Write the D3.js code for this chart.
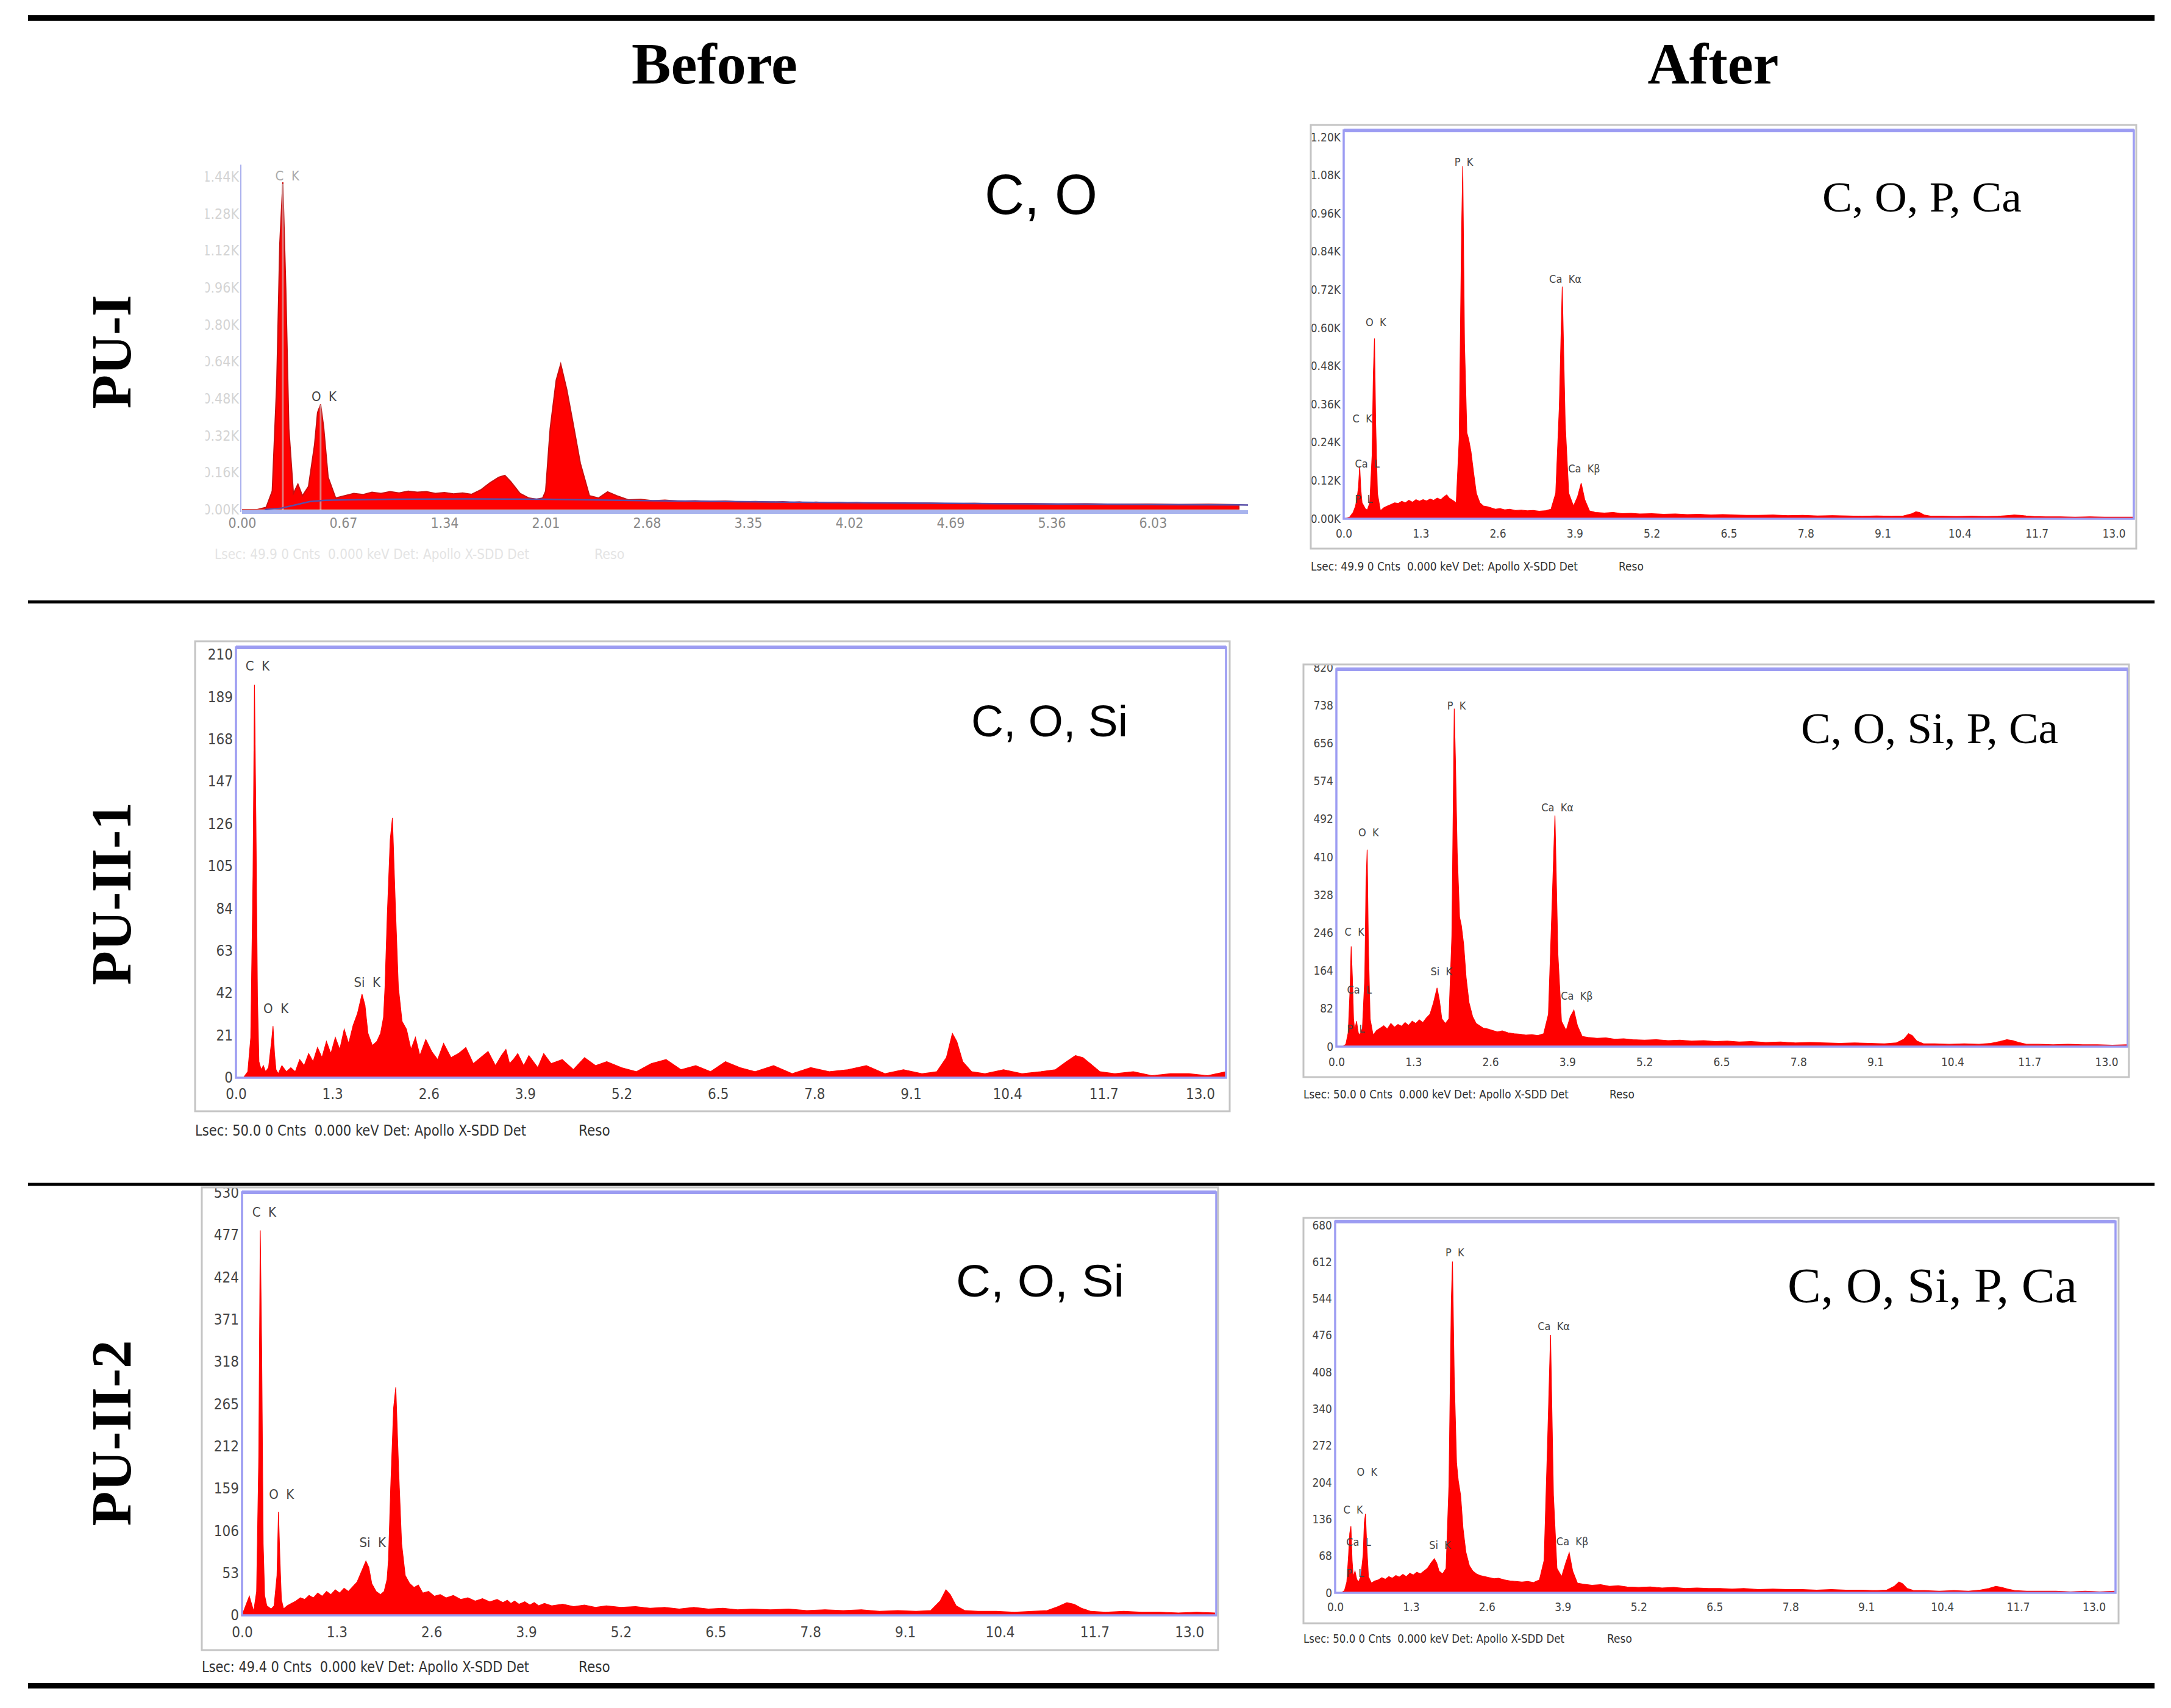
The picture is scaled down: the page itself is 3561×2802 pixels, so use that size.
<!DOCTYPE html>
<html>
<head>
<meta charset="utf-8">
<script src="https://cdn.jsdelivr.net/npm/d3@7"></script>
<style>
  body { margin: 0; background: #fff; }
  svg { display: block; }
</style>
</head>
<body>
<div id="chart"></div>
<script>
// energy grid in keV, shared by all six spectra (10 values per row)
var energy = [
  0.00, 0.10, 0.16, 0.20, 0.23, 0.25, 0.27, 0.29, 0.31, 0.34,
  0.37, 0.40, 0.44, 0.48, 0.50, 0.52, 0.54, 0.57, 0.62, 0.68,
  0.74, 0.80, 0.86, 0.92, 0.98, 1.04, 1.10, 1.16, 1.22, 1.28,
  1.34, 1.40, 1.46, 1.52, 1.58, 1.64, 1.70, 1.74, 1.78, 1.84,
  1.90, 1.95, 1.99, 2.01, 2.04, 2.08, 2.11, 2.15, 2.19, 2.24,
  2.30, 2.36, 2.42, 2.48, 2.56, 2.64, 2.72, 2.80, 2.90, 3.00,
  3.10, 3.20, 3.30, 3.40, 3.50, 3.58, 3.64, 3.69, 3.74, 3.80,
  3.88, 3.95, 4.01, 4.07, 4.15, 4.25, 4.40, 4.55, 4.70, 4.85,
  5.00, 5.20, 5.40, 5.60, 5.80, 6.00, 6.20, 6.40, 6.60, 6.80,
  7.00, 7.25, 7.50, 7.75, 8.00, 8.25, 8.50, 8.75, 9.00, 9.25,
  9.45, 9.58, 9.66, 9.72, 9.80, 9.92, 10.10, 10.35, 10.60, 10.85,
  11.05, 11.20, 11.32, 11.42, 11.52, 11.65, 11.85, 12.10, 12.35, 12.60,
  12.85, 13.10, 13.35
];

// PU-I before (K counts)
var countsPUIBefore = [
  0, 0, 0.01, 0.08, 0.55, 1.15, 1.416, 0.95, 0.35, 0.07,
  0.11, 0.06, 0.10, 0.28, 0.42, 0.455, 0.36, 0.14, 0.05, 0.06,
  0.07, 0.065, 0.075, 0.07, 0.078, 0.072, 0.08, 0.075, 0.078, 0.07,
  0.074, 0.068, 0.072, 0.066, 0.085, 0.115, 0.14, 0.148, 0.12, 0.07,
  0.05, 0.045, 0.05, 0.08, 0.35, 0.56, 0.63, 0.52, 0.38, 0.20,
  0.06, 0.05, 0.077, 0.06, 0.042, 0.044, 0.038, 0.041, 0.036, 0.038,
  0.035, 0.037, 0.033, 0.035, 0.032, 0.034, 0.031, 0.033, 0.030, 0.032,
  0.030, 0.031, 0.029, 0.030, 0.028, 0.029, 0.027, 0.028, 0.026, 0.027,
  0.025, 0.026, 0.024, 0.025, 0.023, 0.024, 0.022, 0.023, 0.021, 0.020,
  0.020, 0.019, 0.020, 0.018, 0.019, 0.018, 0.017, 0.018, 0.017, 0.016,
  0.016, 0.017, 0.018, 0.017, 0.016, 0.015, 0.015, 0.014, 0.014, 0.013,
  0.013, 0.014, 0.015, 0.014, 0.013, 0.012, 0.012, 0.011, 0.011, 0.010,
  0.010, 0.010, 0.009
];
// PU-I after (K counts)
var countsPUIAfter = [
  0, 0.005, 0.02, 0.04, 0.07, 0.10, 0.165, 0.09, 0.05, 0.04,
  0.03, 0.028, 0.05, 0.20, 0.45, 0.567, 0.30, 0.08, 0.025, 0.035,
  0.04, 0.045, 0.05, 0.048, 0.055, 0.05, 0.058, 0.052, 0.06, 0.055,
  0.06, 0.056, 0.062, 0.058, 0.065, 0.06, 0.07, 0.075, 0.065, 0.058,
  0.05, 0.25, 0.90, 1.109, 0.55, 0.27, 0.25, 0.21, 0.15, 0.08,
  0.05, 0.04, 0.038, 0.035, 0.03, 0.032, 0.028, 0.03, 0.026, 0.027,
  0.025, 0.026, 0.024, 0.025, 0.03, 0.08, 0.35, 0.73, 0.30, 0.08,
  0.04, 0.07, 0.112, 0.06, 0.025, 0.02, 0.018, 0.02, 0.016, 0.017,
  0.015, 0.016, 0.014, 0.015, 0.013, 0.014, 0.012, 0.013, 0.012, 0.011,
  0.011, 0.012, 0.010, 0.011, 0.009, 0.010, 0.009, 0.008, 0.009, 0.008,
  0.009, 0.015, 0.022, 0.02, 0.012, 0.008, 0.008, 0.007, 0.008, 0.007,
  0.008, 0.010, 0.012, 0.011, 0.009, 0.007, 0.006, 0.006, 0.005, 0.006,
  0.005, 0.005, 0.005
];
// PU-II-1 before (counts)
var countsPUII1Before = [
  0, 0, 3, 20, 100, 195, 125, 40, 8, 4,
  6, 3, 5, 18, 25.6, 12, 4, 2, 6, 3,
  5, 3, 9, 6, 12, 8, 15, 10, 18, 12,
  20, 14, 24, 17, 26, 32, 41.5, 36, 22, 16,
  18, 22, 30, 45, 80, 118, 129, 85, 45, 28,
  24, 14, 20, 11, 19, 13, 9, 17, 10, 12,
  15, 7, 10, 13, 6, 11, 14, 7, 9, 12,
  6, 11, 8, 5, 12, 7, 9, 4, 10, 6,
  8, 5, 3, 7, 9, 4, 6, 3, 8, 5,
  3, 6, 2, 5, 3, 4, 6, 2, 4, 2,
  3, 10, 22, 18, 8, 3, 2, 4, 2, 3,
  4, 8, 11, 10, 7, 3, 2, 3, 1, 2,
  2, 1, 3
];
// PU-II-1 after (counts)
var countsPUII1After = [
  0, 0, 5, 30, 120, 217, 150, 60, 35, 55,
  30, 25, 40, 150, 350, 426, 220, 60, 25, 35,
  40, 45, 38, 50, 42, 48, 44, 52, 46, 55,
  50, 58, 52, 62, 70, 95, 127, 100, 60, 50,
  60, 240, 731, 620, 420, 280, 262, 220, 150, 95,
  65, 50, 45, 40, 38, 35, 32, 34, 30, 28,
  27, 25, 26, 24, 28, 70, 300, 500, 200, 55,
  35, 65, 79, 45, 22, 20, 18, 19, 16, 17,
  15, 14, 15, 13, 14, 12, 13, 11, 12, 10,
  11, 9, 10, 8, 9, 8, 7, 8, 7, 6,
  8, 16, 28, 24, 12, 6, 6, 5, 6, 5,
  7, 11, 15, 13, 9, 5, 5, 4, 5, 4,
  4, 3, 4
];
// PU-II-2 before (counts)
var countsPUII2Before = [
  0, 24, 5, 30, 200, 483, 330, 90, 25, 12,
  10, 8, 12, 50, 130, 70, 20, 8, 12, 15,
  18, 22, 20, 25, 22, 28, 24, 30, 26, 32,
  28, 34, 30, 36, 42, 55, 68, 60, 40, 30,
  26, 30, 45, 70, 160, 260, 286, 180, 90, 50,
  40, 35, 38, 28, 30, 24, 26, 22, 25, 20,
  22, 18, 21, 17, 20, 16, 19, 15, 18, 14,
  17, 13, 16, 12, 15, 12, 14, 11, 13, 10,
  12, 10, 11, 9, 10, 8, 10, 8, 9, 7,
  8, 7, 8, 6, 7, 6, 7, 5, 6, 5,
  6, 18, 32, 26, 12, 6, 5, 5, 4, 5,
  6, 11, 16, 14, 9, 5, 4, 5, 4, 4,
  3, 4, 3
];
// PU-II-2 after (counts)
var countsPUII2After = [
  0, 0, 4, 20, 70, 110, 123, 60, 30, 40,
  25, 20, 30, 70, 130, 146, 90, 30, 18, 22,
  24, 28, 25, 30, 27, 32, 29, 34, 30, 36,
  33, 38, 35, 40, 45, 55, 63, 55, 40, 35,
  45, 200, 540, 613, 400, 240, 207, 180, 120, 75,
  50, 40, 35, 32, 30, 28, 26, 27, 24, 22,
  21, 20, 21, 19, 24, 60, 280, 477, 180, 45,
  30, 55, 74, 40, 18, 16, 14, 15, 12, 13,
  11, 10, 11, 9, 10, 8, 9, 8, 8, 7,
  8, 6, 7, 6, 6, 5, 6, 5, 5, 4,
  5, 12, 20, 17, 8, 4, 4, 3, 4, 3,
  5, 8, 12, 10, 7, 4, 3, 3, 3, 2,
  3, 2, 3
];

// background fit line of the PU-I before spectrum (K counts)
var fitEnergy = [0.15, 0.25, 0.35, 0.45, 0.55, 0.70, 1.00, 1.50, 2.00, 2.50, 3.00, 4.00, 5.00, 6.00, 6.66];
var fitCounts = [0.0, 0.005, 0.02, 0.035, 0.04, 0.042, 0.045, 0.046, 0.045, 0.040, 0.036, 0.030, 0.026, 0.022, 0.020];

// tick values
var xTicksPUIBefore = [0, 0.67, 1.34, 2.01, 2.68, 3.35, 4.02, 4.69, 5.36, 6.03];
var xTicksKeV = [0, 1.3, 2.6, 3.9, 5.2, 6.5, 7.8, 9.1, 10.4, 11.7, 13.0];
var yTicksPUIBefore = [0, 0.16, 0.32, 0.48, 0.64, 0.80, 0.96, 1.12, 1.28, 1.44];
var yTicksPUIAfter = [0, 0.12, 0.24, 0.36, 0.48, 0.60, 0.72, 0.84, 0.96, 1.08, 1.20];
var yTicksPUII1Before = [0, 21, 42, 63, 84, 105, 126, 147, 168, 189, 210];
var yTicksPUII1After = [0, 82, 164, 246, 328, 410, 492, 574, 656, 738, 820];
var yTicksPUII2Before = [0, 53, 106, 159, 212, 265, 318, 371, 424, 477, 530];
var yTicksPUII2After = [0, 68, 136, 204, 272, 340, 408, 476, 544, 612, 680];

// peak labels: name, energy (keV), height (counts) of the label
var labelsPUIBefore = {names: ["C K", "O K"], e: [0.22, 0.46], v: [1.44, 0.484]};
var labelsPUIAfter = {names: ["P K", "Ca Kα", "O K", "C K", "Ca L", "Ca Kβ", "P L"],
  e: [1.87, 3.47, 0.37, 0.15, 0.19, 3.79, 0.19], v: [1.12, 0.752, 0.615, 0.313, 0.17, 0.155, 0.06]};
var labelsPUII1Before = {names: ["C K", "O K", "Si K"], e: [0.13, 0.37, 1.59], v: [204, 34, 47]};
var labelsPUII1After = {names: ["P K", "Ca Kα", "O K", "C K", "Si K", "Ca L", "Ca Kβ", "P L"],
  e: [1.87, 3.46, 0.37, 0.14, 1.59, 0.18, 3.79, 0.18], v: [736, 516, 461, 246, 161, 121, 108, 37]};
var labelsPUII2Before = {names: ["C K", "O K", "Si K"], e: [0.14, 0.37, 1.61], v: [505, 151, 90]};
var labelsPUII2After = {names: ["P K", "Ca Kα", "O K", "C K", "Si K", "Ca L", "Ca Kβ", "P L"],
  e: [1.89, 3.47, 0.37, 0.14, 1.61, 0.19, 3.79, 0.19], v: [628, 492, 222, 152, 87, 92, 94, 35]};

var columnTitles = ["Before", "After"];
var rowTitles = ["PU-I", "PU-II-1", "PU-II-2"];
var elementNotes = ["C, O", "C, O, P, Ca", "C, O, Si", "C, O, Si, P, Ca", "C, O, Si", "C, O, Si, P, Ca"];

var W = 3561, H = 2802;
var condensed = "'Liberation Sans Narrow', 'DejaVu Sans Condensed', 'Liberation Sans', sans-serif";
var serif = "'Liberation Serif', 'DejaVu Serif', serif";
var sans = "'Liberation Sans', Arial, sans-serif";

var svg = d3.select("#chart").append("svg")
    .attr("width", W)
    .attr("height", H);

svg.append("rect").attr("width", W).attr("height", H).attr("fill", "#fff");

// table rules
[[29.5, 9], [987.5, 5], [1943, 5], [2765.5, 9]].forEach(function(r) {
  svg.append("line")
    .attr("x1", 46).attr("x2", 3534)
    .attr("y1", r[0]).attr("y2", r[0])
    .attr("stroke", "#000")
    .attr("stroke-width", r[1]);
});

// column headers
var headerX = [1172, 2810], headerLen = [272, 215];
columnTitles.forEach(function(t, i) {
  svg.append("text")
    .attr("x", headerX[i]).attr("y", 137)
    .attr("text-anchor", "middle")
    .attr("font-family", serif)
    .attr("font-weight", "bold")
    .attr("font-size", 96)
    .attr("textLength", headerLen[i])
    .attr("lengthAdjust", "spacingAndGlyphs")
    .text(t);
});

// row headers
var rowY = [577, 1466, 2351], rowLen = [187, 300, 305];
rowTitles.forEach(function(t, i) {
  svg.append("text")
    .attr("transform", "translate(182," + rowY[i] + ") rotate(-90)")
    .attr("text-anchor", "middle")
    .attr("dominant-baseline", "central")
    .attr("font-family", serif)
    .attr("font-weight", "bold")
    .attr("font-size", 94)
    .attr("textLength", rowLen[i])
    .attr("lengthAdjust", "spacingAndGlyphs")
    .text(t);
});

var fmtK = function(d) { return d3.format(".2f")(d) + "K"; };

var panels = [
  {counts: countsPUIBefore, xMax: 6.66, yMax: 1.44, xTicks: xTicksPUIBefore, yTicks: yTicksPUIBefore,
   xFmt: d3.format(".2f"), yFmt: fmtK, labels: labelsPUIBefore, note: elementNotes[0],
   left: 397, right: 2047, zero: 836, top: 290, frameTop: 270, outer: null,
   tickY: 858, tickSize: 23, yTickColor: "#d4d4d4", xTickColor: "#8a8a8a",
   footer: "Lsec: 49.9 0 Cnts  0.000 keV Det: Apollo X-SDD Det", footX: 352, footY: 910, footLen: 516, resoX: 975, footColor: "#e4e4e4",
   noteX: 1615, noteY: 351, noteSize: 92, noteFont: sans, noteLen: 185,
   labelSize: 22, labelColors: ["#aaaaaa", "#444"], faded: true},
  {counts: countsPUIAfter, xMax: 13.34, yMax: 1.2, xTicks: xTicksKeV, yTicks: yTicksPUIAfter,
   xFmt: d3.format(".1f"), yFmt: fmtK, labels: labelsPUIAfter, note: elementNotes[1],
   left: 2204, right: 3500, zero: 851, top: 225, frameTop: 214, outer: [2150, 205, 3504, 900],
   tickY: 875, tickSize: 19, yTickColor: "#444", xTickColor: "#444",
   footer: "Lsec: 49.9 0 Cnts  0.000 keV Det: Apollo X-SDD Det", footX: 2150, footY: 930, footLen: 438, resoX: 2655, footColor: "#333",
   noteX: 2989, noteY: 347, noteSize: 70, noteFont: serif, noteLen: 327,
   labelSize: 18, labelColors: ["#444"]},
  {counts: countsPUII1Before, xMax: 13.35, yMax: 210, xTicks: xTicksKeV, yTicks: yTicksPUII1Before,
   xFmt: d3.format(".1f"), yFmt: d3.format("d"), labels: labelsPUII1Before, note: elementNotes[2],
   left: 387, right: 2011, zero: 1768, top: 1074, frameTop: 1062, outer: [320, 1052, 2017, 1823],
   tickY: 1795, tickSize: 24, yTickColor: "#444", xTickColor: "#444",
   footer: "Lsec: 50.0 0 Cnts  0.000 keV Det: Apollo X-SDD Det", footX: 320, footY: 1856, footLen: 543, resoX: 949, footColor: "#333",
   noteX: 1593, noteY: 1208, noteSize: 72, noteFont: sans, noteLen: 257,
   labelSize: 22, labelColors: ["#444"]},
  {counts: countsPUII1After, xMax: 13.36, yMax: 820, xTicks: xTicksKeV, yTicks: yTicksPUII1After,
   xFmt: d3.format(".1f"), yFmt: d3.format("d"), labels: labelsPUII1After, note: elementNotes[3],
   left: 2192, right: 3490, zero: 1717, top: 1095, frameTop: 1098, outer: [2138, 1090, 3492, 1767],
   tickY: 1742, tickSize: 19, yTickColor: "#444", xTickColor: "#444",
   footer: "Lsec: 50.0 0 Cnts  0.000 keV Det: Apollo X-SDD Det", footX: 2138, footY: 1796, footLen: 435, resoX: 2640, footColor: "#333",
   noteX: 2954, noteY: 1219, noteSize: 72, noteFont: serif, noteLen: 422,
   labelSize: 18, labelColors: ["#444"]},
  {counts: countsPUII2Before, xMax: 13.37, yMax: 530, xTicks: xTicksKeV, yTicks: yTicksPUII2Before,
   xFmt: d3.format(".1f"), yFmt: d3.format("d"), labels: labelsPUII2Before, note: elementNotes[4],
   left: 397, right: 1995, zero: 2650, top: 1957, frameTop: 1956, outer: [331, 1948, 1998, 2707],
   tickY: 2678, tickSize: 24, yTickColor: "#444", xTickColor: "#444",
   footer: "Lsec: 49.4 0 Cnts  0.000 keV Det: Apollo X-SDD Det", footX: 331, footY: 2736, footLen: 537, resoX: 949, footColor: "#333",
   noteX: 1568, noteY: 2127, noteSize: 74, noteFont: sans, noteLen: 276,
   labelSize: 22, labelColors: ["#444"]},
  {counts: countsPUII2After, xMax: 13.37, yMax: 680, xTicks: xTicksKeV, yTicks: yTicksPUII2After,
   xFmt: d3.format(".1f"), yFmt: d3.format("d"), labels: labelsPUII2After, note: elementNotes[5],
   left: 2190, right: 3470, zero: 2613, top: 2010, frameTop: 2004, outer: [2138, 1998, 3475, 2663],
   tickY: 2636, tickSize: 19, yTickColor: "#444", xTickColor: "#444",
   footer: "Lsec: 50.0 0 Cnts  0.000 keV Det: Apollo X-SDD Det", footX: 2138, footY: 2689, footLen: 428, resoX: 2636, footColor: "#333",
   noteX: 2932, noteY: 2136, noteSize: 80, noteFont: serif, noteLen: 475,
   labelSize: 18, labelColors: ["#444"]}
];

var defs = svg.append("defs");

panels.forEach(function(p, i) {
  var g = svg.append("g");
  var clipOuter = "outer" + i, clipPlot = "plot" + i;

  var ob = p.outer || [p.left - 60, p.frameTop - 30, p.right + 20, p.footY + 20];
  defs.append("clipPath").attr("id", clipOuter)
    .append("rect")
      .attr("x", ob[0]).attr("y", ob[1])
      .attr("width", ob[2] - ob[0]).attr("height", ob[3] - ob[1]);
  defs.append("clipPath").attr("id", clipPlot)
    .append("rect")
      .attr("x", p.left).attr("y", p.frameTop)
      .attr("width", p.right - p.left).attr("height", p.zero - p.frameTop);

  var x = d3.scaleLinear().domain([0, p.xMax]).range([p.left, p.right]);
  var y = d3.scaleLinear().domain([0, p.yMax]).range([p.zero, p.top]);

  var inner = g.append("g").attr("clip-path", "url(#" + clipOuter + ")");

  // outer window frame
  if (p.outer) {
    g.append("rect")
      .attr("x", p.outer[0]).attr("y", p.outer[1])
      .attr("width", p.outer[2] - p.outer[0]).attr("height", p.outer[3] - p.outer[1])
      .attr("fill", "none")
      .attr("stroke", "#c4c4c4")
      .attr("stroke-width", 3);
  }

  // spectrum
  var data = d3.zip(energy, p.counts).filter(function(d) { return d[0] <= p.xMax + 0.01; });
  var area = d3.area()
    .x(function(d) { return x(d[0]); })
    .y0(y(0))
    .y1(function(d) { return y(d[1]); });
  inner.append("path")
    .datum(data)
    .attr("clip-path", "url(#" + clipPlot + ")")
    .attr("d", area)
    .attr("fill", "#ff0000")
    .attr("stroke", p.faded ? "#c81010" : "#ff0000")
    .attr("stroke-width", p.faded ? 2 : 1.2);

  if (p.faded) {
    // marker lines and background fit
    inner.selectAll(".marker")
      .data([0.27, 0.52])
      .enter().append("line")
        .attr("x1", function(d) { return x(d); })
        .attr("x2", function(d) { return x(d); })
        .attr("y1", function(d, k) { return y(p.labels.v[k]) + 12; })
        .attr("y2", function(d) { return y(0); })
        .attr("stroke", "#cfcfcf")
        .attr("stroke-opacity", 0.6)
        .attr("stroke-width", 3);
    inner.append("path")
      .datum(d3.zip(fitEnergy, fitCounts))
      .attr("d", d3.line().x(function(d) { return x(d[0]); }).y(function(d) { return y(d[1]); }))
      .attr("fill", "none")
      .attr("stroke", "#5a4fa8")
      .attr("stroke-width", 2.5);
    // axes lines of the faded window
    inner.append("line")
      .attr("x1", p.left).attr("x2", p.right)
      .attr("y1", p.zero + 4).attr("y2", p.zero + 4)
      .attr("stroke", "#a8b4ee").attr("stroke-width", 6);
    inner.append("line")
      .attr("x1", p.left - 2).attr("x2", p.left - 2)
      .attr("y1", p.frameTop).attr("y2", p.zero + 4)
      .attr("stroke", "#aab0ee").attr("stroke-width", 2);
  } else {
    // blue plot frame
    inner.append("rect")
      .attr("x", p.left).attr("y", p.frameTop)
      .attr("width", p.right - p.left).attr("height", p.zero - p.frameTop)
      .attr("fill", "none")
      .attr("stroke", "#9c9cf2")
      .attr("stroke-width", 3.5);
    inner.append("line")
      .attr("x1", p.left).attr("x2", p.right)
      .attr("y1", p.frameTop).attr("y2", p.frameTop)
      .attr("stroke", "#9c9cf2")
      .attr("stroke-width", 6);
  }

  // y axis
  var ya = inner.append("g")
    .attr("transform", "translate(" + (p.left - 2) + ",0)")
    .call(d3.axisLeft(y).tickValues(p.yTicks).tickSize(0).tickPadding(3).tickFormat(p.yFmt));
  ya.select(".domain").remove();
  ya.selectAll("text")
    .attr("font-family", condensed)
    .attr("font-size", p.tickSize)
    .attr("fill", p.yTickColor);

  // x axis
  var xa = inner.append("g")
    .attr("transform", "translate(0," + p.zero + ")")
    .call(d3.axisBottom(x).tickValues(p.xTicks).tickSize(0).tickFormat(p.xFmt));
  xa.select(".domain").remove();
  xa.selectAll("text")
    .attr("y", p.tickY - p.zero)
    .attr("dy", "0.35em")
    .attr("font-family", condensed)
    .attr("font-size", p.tickSize)
    .attr("fill", p.xTickColor);

  // peak labels
  inner.selectAll(".peak")
    .data(p.labels.names)
    .enter().append("text")
      .attr("x", function(d, k) { return x(p.labels.e[k]); })
      .attr("y", function(d, k) { return y(p.labels.v[k]); })
      .attr("dominant-baseline", "middle")
      .attr("font-family", condensed)
      .attr("font-size", p.labelSize)
      .attr("fill", function(d, k) { return p.labelColors[Math.min(k, p.labelColors.length - 1)]; })
      .attr("xml:space", "preserve")
      .text(function(d) { return d.replace(" ", "  "); });

  // element annotation
  g.append("text")
    .attr("x", p.noteX).attr("y", p.noteY)
    .attr("font-family", p.noteFont)
    .attr("font-size", p.noteSize)
    .attr("fill", "#000")
    .attr("textLength", p.noteLen)
    .attr("lengthAdjust", "spacingAndGlyphs")
    .text(p.note);

  // status line under the window
  g.append("text")
    .attr("x", p.footX).attr("y", p.footY)
    .attr("dominant-baseline", "middle")
    .attr("font-family", condensed)
    .attr("font-size", p.tickSize)
    .attr("fill", p.footColor)
    .attr("textLength", p.footLen)
    .attr("lengthAdjust", "spacingAndGlyphs")
    .attr("xml:space", "preserve")
    .text(p.footer);
  g.append("text")
    .attr("x", p.resoX).attr("y", p.footY)
    .attr("dominant-baseline", "middle")
    .attr("font-family", condensed)
    .attr("font-size", p.tickSize)
    .attr("fill", p.footColor)
    .text("Reso");
});
</script>
</body>
</html>
